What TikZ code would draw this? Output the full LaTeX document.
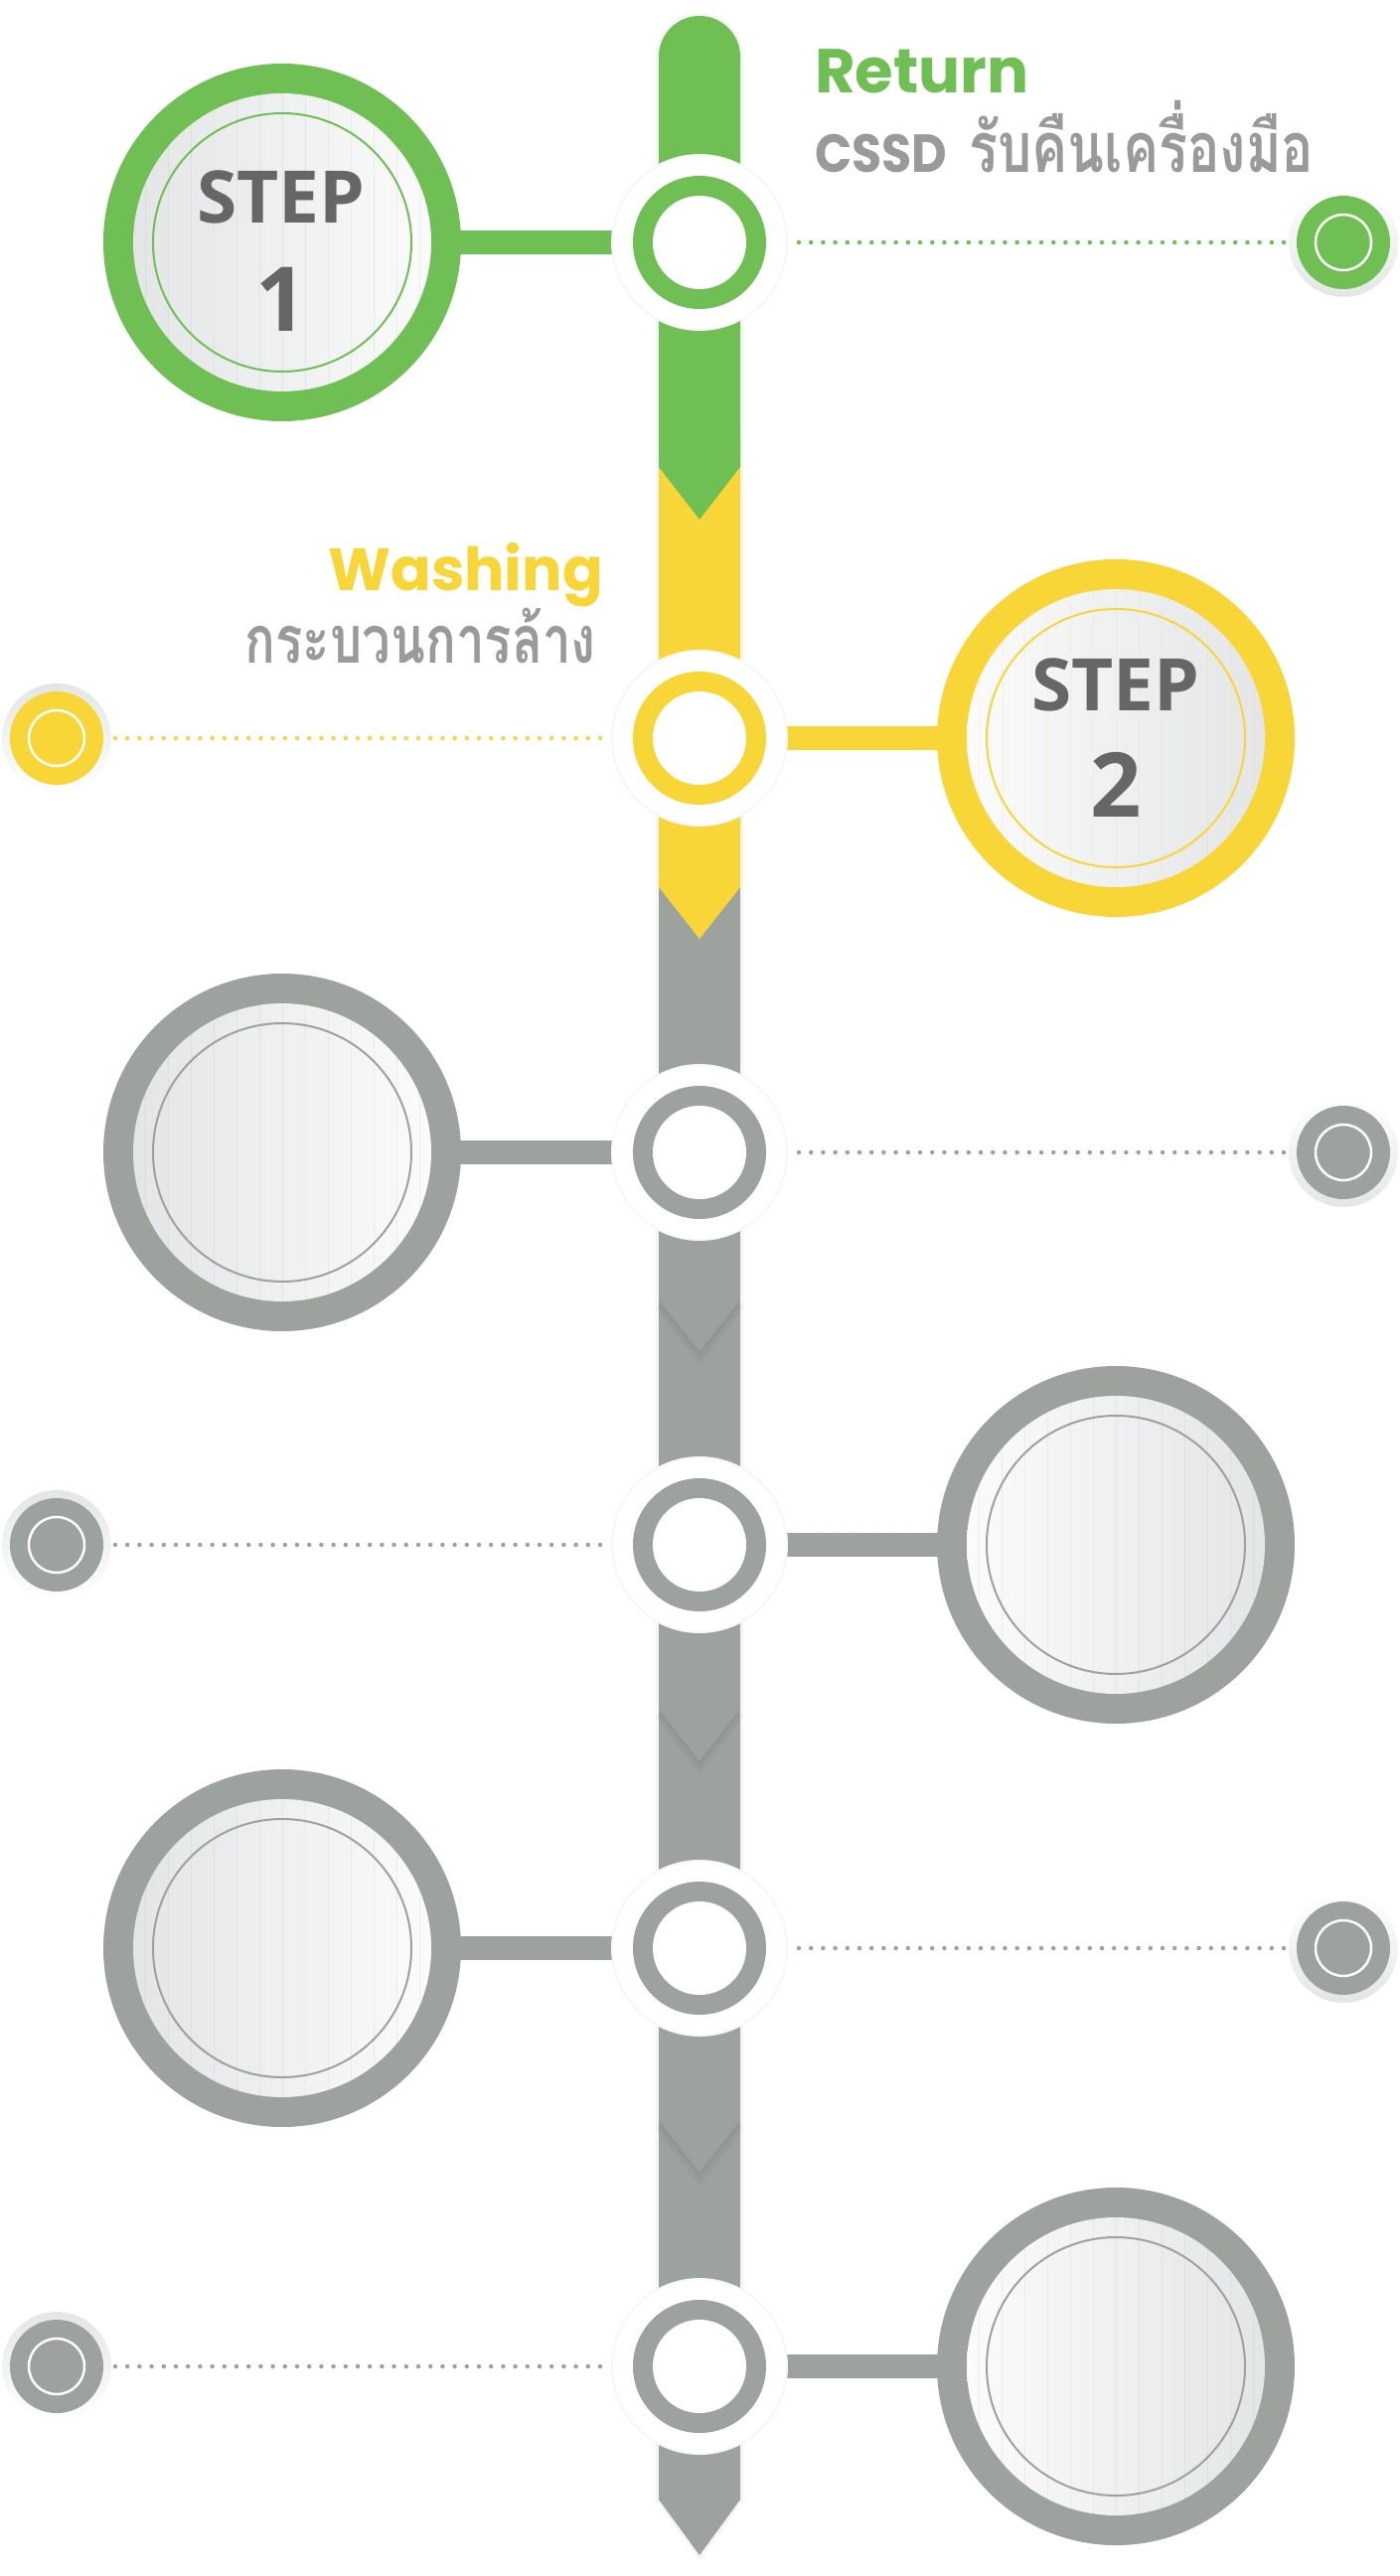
\documentclass[tikz,border=0pt]{standalone}
\usepackage{fontspec}
\setmainfont{Open Sans}
\newfontfamily\popfont{Poppins}
\newfontfamily\stepfont{Open Sans}
\newfontfamily\thaifont[Script=Thai]{Loma}
\definecolor{cgreen}{HTML}{70BF54}
\definecolor{cyellow}{HTML}{F9D637}
\definecolor{cgray}{HTML}{9DA29F}
\definecolor{ctext}{HTML}{666666}
\definecolor{cthai}{HTML}{9A9A9A}
\definecolor{clight}{HTML}{E3E5E6}
\definecolor{cpale}{HTML}{FBFBFB}
\definecolor{chalo}{HTML}{E4E6E6}
\tikzset{
  conn/.style={line width=24pt},
  dots/.style={line width=4.5pt, line cap=round, dash pattern=on 0pt off 12.2pt, shorten <=100pt, shorten >=56pt},
  steptxt/.style={inner sep=0pt, anchor=base, text=ctext, font=\stepfont\bfseries\fontsize{73}{80}\selectfont},
  numtxt/.style={inner sep=0pt, anchor=base, text=ctext, font=\stepfont\bfseries\fontsize{90}{96}\selectfont},
}
\newcommand\tlbigdisc[4]{%
  \fill[#2] (#1) circle (180);
  \shade[left color=#3,right color=#4] (#1) circle (150);
  \begin{scope}
    \clip (#1) circle (150);
    \begin{scope}[shift={(#1)}]
      \foreach \k in {-6,...,6} \draw[#2, opacity=.13, line width=1pt] (\k*23,-150) -- (\k*23,150);
    \end{scope}
  \end{scope}
  \draw[#2, line width=2pt] (#1) circle (130);
}
\newcommand\tlhub[2]{%
  \fill[black!3] (#1) circle (89);
  \fill[white] (#1) circle (87);
  \fill[#2] (#1) circle (67);
  \fill[white] (#1) circle (47);
}
\newcommand\tlend[4]{%
  \shade[top color=#3, bottom color=#4] (#1) circle (55);
  \fill[#2] (#1) circle (47);
  \draw[white, line width=2.5pt] (#1) circle (28);
}
\begin{document}
\begin{tikzpicture}[x=1pt,y=-1pt]
\useasboundingbox (0,0) rectangle (1408,2593);
\fill[white] (0,0) rectangle (1408,2593);
% centres
\coordinate (h1) at (704,244);  \coordinate (b1) at (284,244);  \coordinate (e1) at (1352,244);
\coordinate (h2) at (704,743);  \coordinate (b2) at (1123,743); \coordinate (e2) at (57,743);
\coordinate (h3) at (704,1160); \coordinate (b3) at (284,1160); \coordinate (e3) at (1352,1160);
\coordinate (h4) at (704,1555); \coordinate (b4) at (1123,1555);\coordinate (e4) at (57,1555);
\coordinate (h5) at (704,1961); \coordinate (b5) at (284,1961); \coordinate (e5) at (1352,1961);
\coordinate (h6) at (704,2382); \coordinate (b6) at (1123,2382);\coordinate (e6) at (57,2382);
% bar shadow
\fill[black!4] (704,57) circle (44);
\fill[black!4] (660,57) rectangle (748,2518);
\fill[black!4] (660,2516) -- (704,2577) -- (748,2516) -- cycle;
% bar segments
\fill[cgray] (663,860) rectangle (745,2517);
\fill[cgray] (663,2516) -- (704,2572) -- (745,2516) -- cycle;
\foreach \yy in {1310,1722,2136} {
  \draw[black, opacity=.035, line width=8pt] (663,{\yy+4}) -- (704,{\yy+57}) -- (745,{\yy+4});
  \draw[black, opacity=.035, line width=3pt] (663,{\yy+1}) -- (704,{\yy+54}) -- (745,{\yy+1});
}
\fill[cyellow] (663,440) -- (663,893) -- (704,945) -- (745,893) -- (745,440) -- cycle;
\fill[cgreen] (704,57) circle (41);
\fill[cgreen] (663,57) -- (663,470) -- (704,523) -- (745,470) -- (745,57) -- cycle;
% connectors
\draw[conn, cgreen] (b1) -- (h1);
\draw[conn, cyellow] (b2) -- (h2);
\draw[conn, cgray] (b3) -- (h3);
\draw[conn, cgray] (b4) -- (h4);
\draw[conn, cgray] (b5) -- (h5);
\draw[conn, cgray] (b6) -- (h6);
\draw[dots, cgreen] (h1) -- (e1);
\draw[dots, cyellow] (h2) -- (e2);
\draw[dots, cgray] (h3) -- (e3);
\draw[dots, cgray] (h4) -- (e4);
\draw[dots, cgray] (h5) -- (e5);
\draw[dots, cgray] (h6) -- (e6);
% big discs
\tlbigdisc{b1}{cgreen}{clight}{cpale}
\tlbigdisc{b2}{cyellow}{cpale}{clight}
\tlbigdisc{b3}{cgray}{clight}{cpale}
\tlbigdisc{b4}{cgray}{cpale}{clight}
\tlbigdisc{b5}{cgray}{clight}{cpale}
\tlbigdisc{b6}{cgray}{cpale}{clight}
% end circles
\tlend{e1}{cgreen}{white}{chalo}
\tlend{e2}{cyellow}{chalo}{white}
\tlend{e3}{cgray}{white}{chalo}
\tlend{e4}{cgray}{chalo}{white}
\tlend{e5}{cgray}{white}{chalo}
\tlend{e6}{cgray}{chalo}{white}
% hubs
\tlhub{h1}{cgreen}
\tlhub{h2}{cyellow}
\tlhub{h3}{cgray}
\tlhub{h4}{cgray}
\tlhub{h5}{cgray}
\tlhub{h6}{cgray}
% texts
\node[inner sep=0pt, anchor=base west, text=cgreen, font=\popfont\bfseries\fontsize{62.5}{68}\selectfont] (t1) at (820,94) {Return};
\node[inner sep=0pt, anchor=base west, text=cthai] (t1b) at (820,174) {\scalebox{1}[1.1]{\popfont\bfseries\fontsize{49}{60}\selectfont CSSD}\hspace{22pt}\scalebox{1}[1.3]{\thaifont\bfseries\fontsize{54}{60}\selectfont รับคืนเครื่องมือ}};
\node[inner sep=0pt, anchor=base east, text=cyellow, font=\popfont\bfseries\fontsize{60}{66}\selectfont] (t2) at (607,594) {Washing};
\node[inner sep=0pt, anchor=base east, text=cthai] (t2b) at (600,667) {\scalebox{1}[1.3]{\thaifont\bfseries\fontsize{51}{60}\selectfont กระบวนการล้าง}};
\node[steptxt] (s1) at (283,225) {STEP};
\node[numtxt] (n1) at (283,333) {1};
\node[steptxt] (s2) at (1123,715) {STEP};
\node[numtxt] (n2) at (1123,822) {2};
\end{tikzpicture}
\end{document}
